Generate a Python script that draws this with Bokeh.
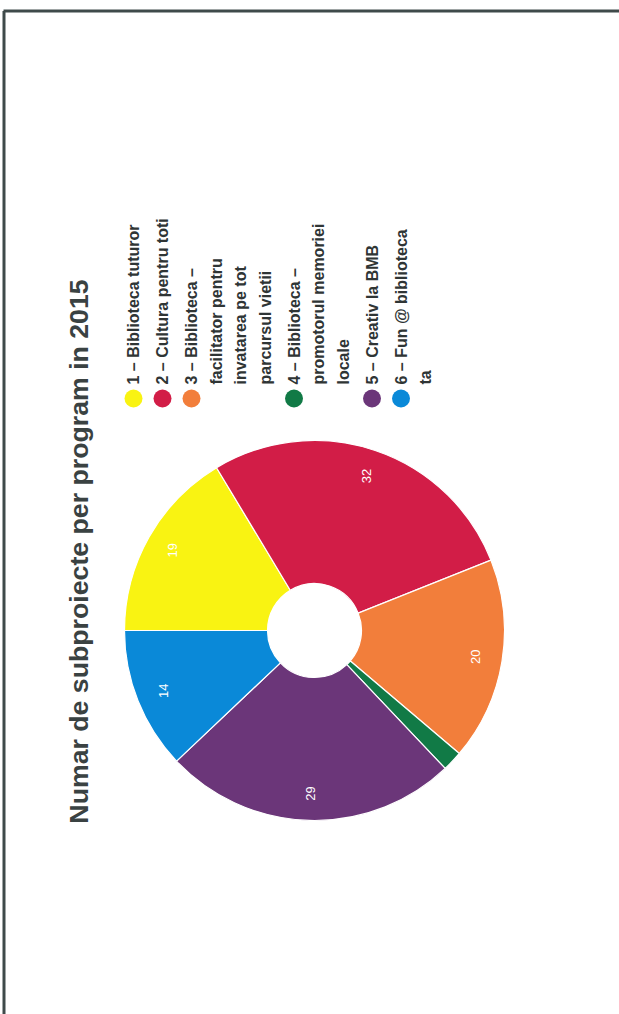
import math
from bokeh.plotting import figure
from bokeh.models import ColumnDataSource
from bokeh.core.properties import value
from bokeh.embed import file_html
from bokeh.resources import INLINE

# ---- data ----
programs = ["1", "2", "3", "4", "5", "6"]
legend_lines = [
    ["1 \u2013 Biblioteca tuturor"],
    ["2 \u2013 Cultura pentru toti"],
    ["3 \u2013 Biblioteca \u2013", "facilitator pentru", "invatarea pe tot", "parcursul vietii"],
    ["4 \u2013 Biblioteca \u2013", "promotorul memoriei", "locale"],
    ["5 \u2013 Creativ la BMB"],
    ["6 \u2013 Fun @ biblioteca", "ta"],
]
counts = [19, 32, 20, 2, 29, 14]
colors = ["#F9F312", "#D21D47", "#F27E3B", "#117A46", "#6B3679", "#0A89D8"]
title = "Numar de subproiecte per program in 2015"

W, H = 619, 1014
p = figure(width=W, height=H, x_range=(0, W), y_range=(0, H),
           output_backend="svg", toolbar_location=None, min_border=0)
p.axis.visible = False
p.grid.visible = False
p.outline_line_color = None
p.background_fill_color = "white"
p.border_fill_color = "white"

# frame (scanned page border)
p.segment(x0=[3, 3.5], y0=[H - 10.5, 0], x1=[W, 3.5], y1=[H - 10.5, H - 10.5],
          line_color="#3f4a4a", line_width=3)

# ---- donut (rotated: starts at 9 o'clock, runs clockwise) ----
cx, cy = 314, H - 630
r_out, r_in = 190, 47
total = float(sum(counts))
starts, ends, mids = [], [], []
acc = 0.0
for c in counts:
    a0 = math.pi - acc / total * 2 * math.pi
    acc += c
    a1 = math.pi - acc / total * 2 * math.pi
    starts.append(a0)
    ends.append(a1)
    mids.append((a0 + a1) / 2)

src = ColumnDataSource(dict(start=starts, end=ends, color=colors,
                            x=[cx] * len(counts), y=[cy] * len(counts)))
p.annular_wedge(x="x", y="y", inner_radius=r_in, outer_radius=r_out,
                start_angle="start", end_angle="end", direction="clock",
                fill_color="color", line_color="white", line_width=1.2, source=src)

# slice value labels
r_lab = 163
lx, ly, lt = [], [], []
for c, m in zip(counts, mids):
    if c / total >= 0.05:
        lx.append(cx + r_lab * math.cos(m))
        ly.append(cy + r_lab * math.sin(m))
        lt.append(str(c))
p.text(x=lx, y=ly, text=lt, angle=math.pi / 2, text_align="center",
       text_baseline="middle", text_color="white", text_font_size="13px",
       text_font=value("Liberation Sans"))

# ---- title ----
p.text(x=[78], y=[H - 551], text=[title], angle=math.pi / 2,
       text_align="center", text_baseline="middle", text_color="#3a4242",
       text_font_size="26.7px", text_font_style="bold",
       text_font=value("Liberation Sans"))

# ---- legend (rotated) ----
item_gap = 29
line_gap = 24.5
x = 133
tx, ty, tt = [], [], []
mx, my = [], []
for lines in legend_lines:
    mx.append(x)
    my.append(H - 398)
    for j, ln in enumerate(lines):
        tx.append(x + j * line_gap)
        ty.append(H - 384)
        tt.append(ln)
    x += (len(lines) - 1) * line_gap + item_gap
p.scatter(x=mx, y=my, size=18, color=colors, line_color=None)
p.text(x=tx, y=ty, text=tt, angle=math.pi / 2, text_align="left",
       text_baseline="middle", text_color="#2f3535", text_font_size="16px",
       text_font_style="bold", text_font=value("Liberation Sans"))

open("out.html", "w").write(file_html(p, INLINE))
